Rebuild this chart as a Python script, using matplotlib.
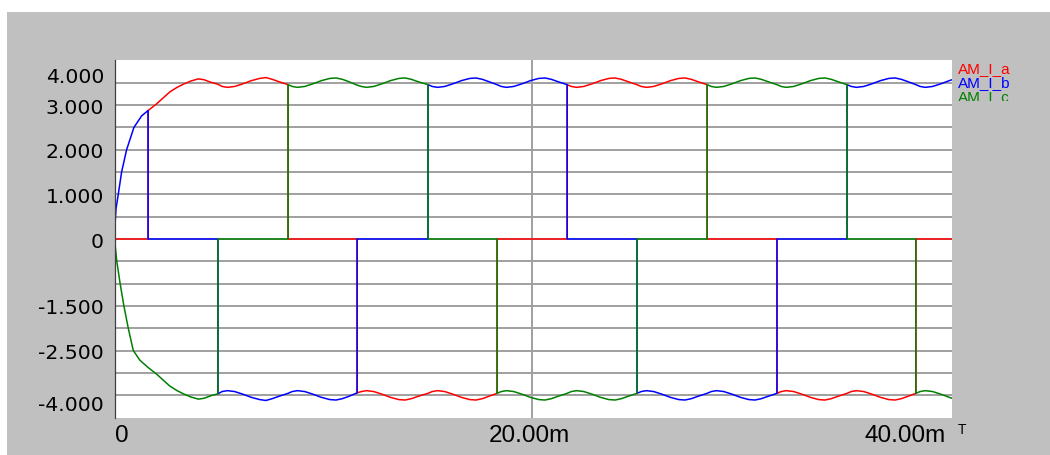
import numpy as np
import matplotlib
matplotlib.use("Agg")
import matplotlib.pyplot as plt
from matplotlib import transforms
from matplotlib.patches import Rectangle

# ---- data (time in ms, current in A) ----
SWITCH_T = [1.61, 4.96, 8.32, 11.63, 15.03, 18.34, 21.70, 25.05, 28.41, 31.76, 35.12, 38.42]
END_T = 40.15
# conducting phases in each interval: (positive, negative)
SEQUENCE = [("b", "c"), ("a", "c"), ("a", "b"), ("c", "b"), ("c", "a"), ("b", "a"),
            ("b", "c"), ("a", "c"), ("a", "b"), ("c", "b"), ("c", "a"), ("b", "a"),
            ("b", "c")]

# start-up currents before the first commutation
START_T_B = [0.00, 0.03, 0.07, 0.18, 0.34, 0.58, 0.93, 1.30, 1.61]
START_I_B = [0.00, 0.35, 0.67, 1.00, 1.50, 2.00, 2.50, 2.76, 2.88]
START_T_C = [0.00, 0.11, 0.27, 0.45, 0.66, 0.90, 1.22, 1.61]
START_I_C = [0.00, -0.50, -1.00, -1.50, -2.00, -2.50, -2.72, -2.88]

# magnitude of the conducting-phase current from the first commutation on
ENV_T = [1.61, 2.02, 2.35, 2.66, 3.00, 3.30, 3.65, 4.02, 4.30, 4.58,
         4.96, 5.16, 5.41, 5.76, 6.16, 6.56, 6.96, 7.26, 7.56, 7.86,
         8.32, 8.52, 8.77, 9.12, 9.52, 9.92, 10.32, 10.62, 10.92, 11.22,
         11.63, 11.83, 12.08, 12.43, 12.83, 13.23, 13.63, 13.93, 14.23, 14.53,
         15.03, 15.23, 15.48, 15.83, 16.23, 16.63, 17.03, 17.33, 17.63, 17.93,
         18.34, 18.54, 18.79, 19.14, 19.54, 19.94, 20.34, 20.64, 20.94, 21.24,
         21.70, 21.90, 22.15, 22.50, 22.90, 23.30, 23.70, 24.00, 24.30, 24.60,
         25.05, 25.25, 25.50, 25.85, 26.25, 26.65, 27.05, 27.35, 27.65, 27.95,
         28.41, 28.61, 28.86, 29.21, 29.61, 30.01, 30.41, 30.71, 31.01, 31.31,
         31.76, 31.96, 32.21, 32.56, 32.96, 33.36, 33.76, 34.06, 34.36, 34.66,
         35.12, 35.32, 35.57, 35.92, 36.32, 36.72, 37.12, 37.42, 37.72, 38.02,
         38.42, 38.62, 38.87, 39.22, 39.62, 40.02, 40.15]
ENV_I = [2.88, 3.03, 3.17, 3.30, 3.40, 3.47, 3.54, 3.59, 3.57, 3.52,
         3.47, 3.42, 3.40, 3.42, 3.48, 3.55, 3.60, 3.62, 3.58, 3.53,
         3.46, 3.42, 3.40, 3.42, 3.48, 3.55, 3.60, 3.61, 3.58, 3.53,
         3.45, 3.42, 3.40, 3.42, 3.48, 3.55, 3.60, 3.61, 3.58, 3.53,
         3.46, 3.42, 3.40, 3.42, 3.48, 3.55, 3.60, 3.61, 3.58, 3.53,
         3.46, 3.42, 3.40, 3.42, 3.48, 3.55, 3.60, 3.61, 3.58, 3.53,
         3.46, 3.42, 3.40, 3.42, 3.48, 3.55, 3.60, 3.61, 3.58, 3.53,
         3.46, 3.42, 3.40, 3.42, 3.48, 3.55, 3.60, 3.61, 3.58, 3.53,
         3.46, 3.42, 3.40, 3.42, 3.48, 3.55, 3.60, 3.61, 3.58, 3.53,
         3.46, 3.42, 3.40, 3.42, 3.48, 3.55, 3.60, 3.61, 3.58, 3.53,
         3.46, 3.42, 3.40, 3.42, 3.48, 3.55, 3.60, 3.61, 3.58, 3.53,
         3.46, 3.42, 3.40, 3.42, 3.48, 3.55, 3.57]

SERIES_NAMES = ["AM_I_a", "AM_I_b", "AM_I_c"]
SERIES_COLORS = ["#ff0000", "#0000ff", "#008000"]

Y_TICK_VALUES = [4, 3, 2, 1, 0, -1.5, -2.5, -4]
Y_TICK_LABELS = ["4.000", "3.000", "2.000", "1.000", "0", "-1.500", "-2.500", "-4.000"]
X_TICK_VALUES = [0, 20, 40]
X_TICK_LABELS = ["0", "20.00m", "40.00m"]

# ---- build the three phase currents ----
bounds = [0.0] + SWITCH_T + [END_T]
env_t = np.array(ENV_T)
env_i = np.array(ENV_I)
phase_t = {p: [] for p in "abc"}
phase_i = {p: [] for p in "abc"}
for k, (pos, neg) in enumerate(SEQUENCE):
    t0, t1 = bounds[k], bounds[k + 1]
    for p in "abc":
        if k == 0 and p == "b":
            phase_t[p] += START_T_B
            phase_i[p] += START_I_B
        elif k == 0 and p == "c":
            phase_t[p] += START_T_C
            phase_i[p] += START_I_C
        elif k > 0 and p in (pos, neg):
            sel = (env_t >= t0 - 1e-9) & (env_t <= t1 + 1e-9)
            sign = 1.0 if p == pos else -1.0
            phase_t[p] += list(env_t[sel])
            phase_i[p] += list(sign * env_i[sel])
        else:
            phase_t[p] += [t0, t1]
            phase_i[p] += [0.0, 0.0]

# ---- figure ----
W, H = 1050, 456
fig = plt.figure(figsize=(W / 100, H / 100), dpi=100)
fig.patch.set_facecolor("white")
fig.add_artist(Rectangle((7 / W, 0), 1 - 7 / W, (H - 13) / H, transform=fig.transFigure,
                         facecolor="#c0c0c0", edgecolor="none", zorder=0))

left, right, top, bottom = 114.5, 952, 61, 419
ax = fig.add_axes([left / W, 1 - bottom / H, (right - left) / W, (bottom - top) / H])
ax.set_facecolor("white")
ax.set_xlim(0, END_T)
ax.set_ylim(-4.013, 4.013)

for s in ("top", "right", "bottom"):
    ax.spines[s].set_visible(False)
ax.spines["left"].set_color("#404040")
ax.spines["left"].set_linewidth(0.9)
ax.spines["left"].set_zorder(4)

ax.set_yticks(np.arange(-3.5, 3.51, 0.5))
ax.set_xticks([20])
ax.tick_params(length=0, labelleft=False, labelbottom=False)
ax.grid(True, color="#a0a0a0", linewidth=1.4)
ax.set_axisbelow(True)

for p, color in zip("abc", SERIES_COLORS):
    ax.plot(phase_t[p], phase_i[p], color=color, linewidth=1.1, zorder=3)

# y tick labels
ytrans = transforms.blended_transform_factory(ax.transAxes, ax.transData)
for v, lab in zip(Y_TICK_VALUES, Y_TICK_LABELS):
    dy = -7.5
    if v == max(Y_TICK_VALUES):
        dy = -21.5
    elif v == min(Y_TICK_VALUES):
        dy = 7.5
    tr = transforms.offset_copy(ytrans, fig=fig, x=-10.5, y=dy, units="dots")
    ax.text(0, v, lab, transform=tr, ha="right", va="baseline",
            fontsize=14.7, family="DejaVu Sans", color="black", clip_on=False)

# x tick labels
xtrans = transforms.blended_transform_factory(ax.transData, ax.transAxes)
for v, lab in zip(X_TICK_VALUES, X_TICK_LABELS):
    if v == min(X_TICK_VALUES):
        ha, dx = "left", 0
    elif v == max(X_TICK_VALUES):
        ha, dx = "right", -3
    else:
        ha, dx = "center", -2
    tr = transforms.offset_copy(xtrans, fig=fig, x=dx, y=-23, units="dots")
    ax.text(v, 0, lab, transform=tr, ha=ha, va="baseline",
            fontsize=17.5, family="Liberation Sans", color="black", clip_on=False)

fig.text(962 / W, 1 - 423 / H, "T", ha="center", va="top", fontsize=10,
         family="Liberation Sans", color="black")

# series names; the last line is cut at its baseline
for i, (name, color) in enumerate(zip(SERIES_NAMES, SERIES_COLORS)):
    base = 73.5 + 14 * i
    txt = fig.text(958 / W, 1 - base / H, name, ha="left", va="baseline",
                   fontsize=11, family="Liberation Sans", color=color)
    if i == len(SERIES_NAMES) - 1:
        txt.set_clip_box(transforms.Bbox.from_extents(0, H - base - 0.5, W, H))
        txt.set_clip_on(True)

fig.savefig("out.png", dpi=100)
